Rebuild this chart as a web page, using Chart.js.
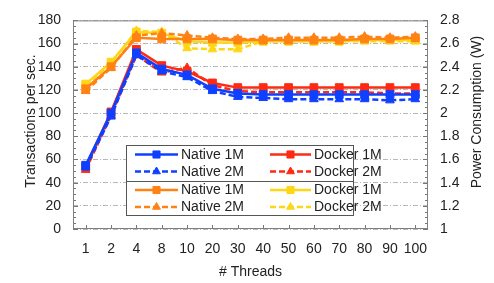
<!DOCTYPE html>
<html>
<head>
<meta charset="utf-8">
<script src="https://cdn.jsdelivr.net/npm/chart.js@4.4.1/dist/chart.umd.min.js"></script>
<style>
  body { margin: 0; background: #fff; }
  #wrap { width: 494px; height: 283px; }
</style>
</head>
<body>
<div id="wrap"><canvas id="chart" width="494" height="283"></canvas></div>
<script>
// thread counts on the x axis
const threads = ['1', '2', '4', '8', '10', '20', '30', '40', '50', '60', '70', '80', '90', '100'];

// transactions per second (left axis)
const tpsNative1M = [55, 100, 152, 138, 133, 121, 117, 116, 116, 116, 116, 116, 116, 116];
const tpsNative2M = [53, 97, 150, 136, 131, 119, 114, 113, 112, 112, 112, 112, 111, 112];
const tpsDocker1M = [54, 101, 155, 141, 136, 126, 122, 122, 122, 122, 122, 122, 122, 122];
const tpsDocker2M = [51, 98, 150, 135, 139, 124, 119, 118, 118, 118, 118, 118, 117, 117];

// power consumption in W (right axis)
const pwrNative1M = [2.21, 2.40, 2.65, 2.64, 2.64, 2.64, 2.63, 2.63, 2.63, 2.63, 2.63, 2.64, 2.64, 2.65];
const pwrNative2M = [2.19, 2.39, 2.67, 2.69, 2.67, 2.65, 2.64, 2.64, 2.65, 2.65, 2.65, 2.66, 2.65, 2.66];
const pwrDocker1M = [2.25, 2.44, 2.70, 2.69, 2.62, 2.61, 2.61, 2.62, 2.62, 2.62, 2.62, 2.63, 2.63, 2.63];
const pwrDocker2M = [2.24, 2.43, 2.71, 2.70, 2.56, 2.55, 2.55, 2.62, 2.62, 2.62, 2.62, 2.62, 2.62, 2.62];

const FONT = '"Liberation Sans", Arial, sans-serif';
const BLUE = '#1040ff', RED = '#ff2a12', ORANGE = '#ff8214', YELLOW = '#ffd614';

function series(label, data, color, dashed, axis) {
    return {
        label: label,
        data: data,
        yAxisID: axis,
        borderColor: color,
        backgroundColor: color,
        borderWidth: 2.5,
        borderDash: dashed ? [6, 3] : [],
        pointStyle: dashed ? 'triangle' : 'rect',
        pointRadius: dashed ? 5 : 5.5,
        pointBorderWidth: 1,
        tension: 0,
        fill: false
    };
}

// minor ticks, frame, axis titles and the boxed legend
const extras = {
    id: 'extras',
    afterDatasetsDraw(chart) {
        const ctx = chart.ctx, a = chart.chartArea;
        const y = chart.scales.y, y1 = chart.scales.y1, x = chart.scales.x;
        ctx.save();
        ctx.strokeStyle = '#777';
        ctx.lineWidth = 1;
        ctx.beginPath();
        for (let v = 0; v <= 180; v += 5) {
            const py = Math.round(y.getPixelForValue(v)) + 0.5;
            const len = v % 20 === 0 ? 5 : 3;
            ctx.moveTo(a.left, py); ctx.lineTo(a.left + len, py);
        }
        for (let v = 1; v <= 2.8001; v += 0.05) {
            const py = Math.round(y1.getPixelForValue(v)) + 0.5;
            const len = Math.abs(v * 5 - Math.round(v * 5)) < 0.01 ? 5 : 3;
            ctx.moveTo(a.right, py); ctx.lineTo(a.right - len, py);
        }
        threads.forEach((t, i) => {
            const px = Math.round(x.getPixelForValue(i)) + 0.5;
            ctx.moveTo(px, a.bottom); ctx.lineTo(px, a.bottom - 4);
        });
        ctx.stroke();
        ctx.strokeStyle = '#808080';
        ctx.strokeRect(a.left + 0.5, a.top + 0.5, a.right - a.left - 1, a.bottom - a.top - 1);
        ctx.restore();
    },
    afterDraw(chart) {
        const ctx = chart.ctx, a = chart.chartArea;
        ctx.save();
        ctx.fillStyle = '#222';
        ctx.font = '14px ' + FONT;
        ctx.textAlign = 'center';
        ctx.textBaseline = 'middle';
        ctx.fillText('# Threads', (a.left + a.right) / 2, 272);
        ctx.save();
        ctx.translate(31, 121);
        ctx.rotate(-Math.PI / 2);
        ctx.fillText('Transactions per sec.', 0, 0);
        ctx.restore();
        ctx.save();
        ctx.translate(477, 112);
        ctx.rotate(-Math.PI / 2);
        ctx.fillText('Power Consumption (W)', 0, 0);
        ctx.restore();

        // legend box
        const bx = 126.5, by = 145.5, bw = 227, bh = 70;
        ctx.fillStyle = '#fff';
        ctx.fillRect(bx, by, bw, bh);
        ctx.strokeStyle = '#555';
        ctx.lineWidth = 1;
        ctx.strokeRect(bx, by, bw, bh);
        ctx.beginPath();
        ctx.moveTo(bx, 181.5); ctx.lineTo(bx + bw, 181.5);
        ctx.stroke();
        const rows = [154.5, 171.5, 190, 207];
        const cols = [[135, 178], [270, 311]];
        const order = [[0, 2], [1, 3], [4, 6], [5, 7]];
        order.forEach((pair, r) => {
            pair.forEach((di, c) => {
                const ds = chart.data.datasets[di];
                const [x0, x1] = cols[c];
                const cy = rows[r];
                ctx.save();
                ctx.strokeStyle = ds.borderColor;
                ctx.fillStyle = ds.backgroundColor;
                ctx.lineWidth = 2.5;
                ctx.setLineDash(ds.borderDash);
                ctx.beginPath();
                ctx.moveTo(x0, cy); ctx.lineTo(x1, cy);
                ctx.stroke();
                ctx.setLineDash([]);
                ctx.lineWidth = 1;
                Chart.helpers.drawPoint(ctx, {
                    pointStyle: ds.pointStyle,
                    radius: ds.pointStyle === 'rect' ? 5 : 4.5,
                    borderWidth: 1,
                    rotation: 0
                }, (x0 + x1) / 2, cy);
                ctx.restore();
                ctx.fillStyle = '#222';
                ctx.font = '14px ' + FONT;
                ctx.textAlign = 'left';
                ctx.fillText(ds.label, x1 + 3, cy + 0.5);
            });
        });
        ctx.restore();
    }
};

new Chart(document.getElementById('chart').getContext('2d'), {
    type: 'line',
    data: {
        labels: threads,
        datasets: [
            series('Native 1M', tpsNative1M, BLUE, false, 'y'),
            series('Native 2M', tpsNative2M, BLUE, true, 'y'),
            series('Docker 1M', tpsDocker1M, RED, false, 'y'),
            series('Docker 2M', tpsDocker2M, RED, true, 'y'),
            series('Native 1M', pwrNative1M, ORANGE, false, 'y1'),
            series('Native 2M', pwrNative2M, ORANGE, true, 'y1'),
            series('Docker 1M', pwrDocker1M, YELLOW, false, 'y1'),
            series('Docker 2M', pwrDocker2M, YELLOW, true, 'y1')
        ]
    },
    options: {
        responsive: false,
        animation: false,
        layout: { padding: { top: 12, left: 0, right: 0, bottom: 0 } },
        plugins: { legend: { display: false }, tooltip: { enabled: false } },
        scales: {
            x: {
                offset: true,
                grid: { display: false, drawTicks: false },
                border: { display: false },
                ticks: { color: '#222', font: { family: FONT, size: 14 }, padding: 12, maxRotation: 0, autoSkip: false },
                afterFit: s => { s.height = 54; }
            },
            y: {
                position: 'left',
                min: 0, max: 180,
                grid: { color: '#b8b8b8', lineWidth: 1, drawTicks: false },
                border: { display: false, dash: [5, 2, 1, 2] },
                ticks: { stepSize: 20, color: '#222', font: { family: FONT, size: 14 }, padding: 12 },
                afterFit: s => { s.width = 73; }
            },
            y1: {
                position: 'right',
                min: 1, max: 2.8,
                grid: { display: false, drawTicks: false },
                border: { display: false },
                ticks: {
                    stepSize: 0.2, color: '#222', font: { family: FONT, size: 14 }, padding: 12,
                    callback: v => String(Math.round(v * 10) / 10)
                },
                afterFit: s => { s.width = 66; }
            }
        }
    },
    plugins: [extras]
});
</script>
</body>
</html>
